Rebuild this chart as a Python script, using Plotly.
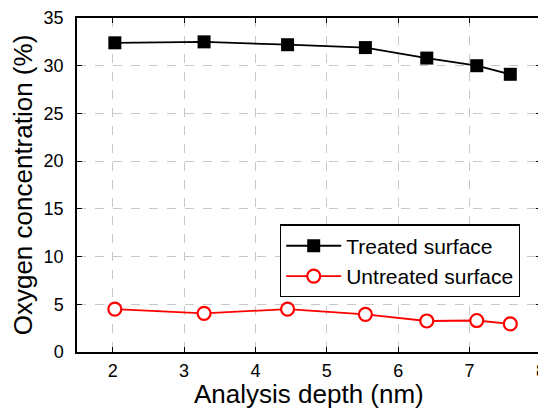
import plotly.graph_objects as go

depth = [2.03, 3.28, 4.45, 5.54, 6.40, 7.10, 7.57]
treated = [32.4, 32.5, 32.2, 31.9, 30.8, 30.0, 29.1]
untreated = [4.5, 4.05, 4.5, 3.95, 3.25, 3.3, 2.95]

x_ticks = [2, 3, 4, 5, 6, 7, 8]
y_ticks = [0, 5, 10, 15, 20, 25, 30, 35]

FONT = "Liberation Sans, Arial"

fig = go.Figure()
fig.add_trace(go.Scatter(
    x=depth, y=treated, mode="lines+markers", name="Treated surface",
    line=dict(color="black", width=1.8),
    marker=dict(symbol="square", size=13, color="black"),
))
fig.add_trace(go.Scatter(
    x=depth, y=untreated, mode="lines+markers", name="Untreated surface",
    line=dict(color="#ff0000", width=1.8),
    marker=dict(symbol="circle", size=13, color="white", line=dict(color="#ff0000", width=2.2)),
))

axis_common = dict(
    showline=True, linecolor="black", linewidth=1.5, mirror="ticks",
    ticks="inside", ticklen=5, tickcolor="black", tickwidth=1,
    showgrid=True, gridcolor="#c8c8c8", griddash="dash", gridwidth=1,
    zeroline=False, tickfont=dict(family=FONT, size=18, color="black"),
    automargin=False, ticklabeloverflow="allow",
)

fig.update_xaxes(range=[1.5, 8], tickvals=x_ticks, ticklabelstandoff=2,
                 **axis_common)
fig.update_yaxes(range=[0, 35], tickvals=y_ticks, ticklabelstandoff=8,
                 title=dict(text="Oxygen concentration (%)", font=dict(family=FONT, size=26, color="black")),
                 **axis_common)

fig.add_annotation(
    text="Analysis depth (nm)", xref="paper", yref="paper", x=0.5, y=0,
    xanchor="center", yanchor="middle", yshift=-42, showarrow=False,
    font=dict(family=FONT, size=26, color="black"),
)

fig.update_layout(
    width=538, height=400,
    margin=dict(l=69, r=5, t=10, b=56, autoexpand=False),
    plot_bgcolor="white", paper_bgcolor="white",
    legend=dict(x=0.4375, y=0.382, xanchor="left", yanchor="top",
                bordercolor="black", borderwidth=1.2, bgcolor="white",
                font=dict(family=FONT, size=21, color="black"),
                itemwidth=55, tracegroupgap=0),
    showlegend=True,
)

fig.write_html("out.html")
